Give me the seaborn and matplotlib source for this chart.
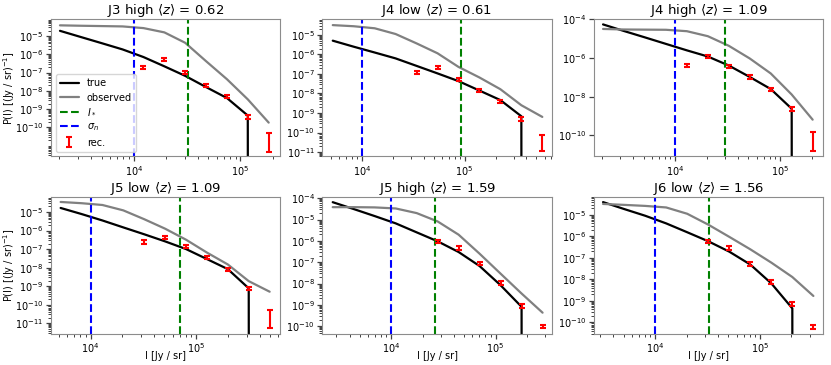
import numpy as np
import matplotlib
matplotlib.use("Agg")
import matplotlib.pyplot as plt
import seaborn as sns

# ---------------- data ----------------
titles = ["J3 high", "J4 low", "J4 high", "J5 low", "J5 high", "J6 low"]
mean_z = ["0.62", "0.61", "1.09", "1.09", "1.59", "1.56"]
sigma_n = [1e4, 1e4, 1e4, 1e4, 1e4, 1e4]
i_star = [32200, 91500, 29900, 69700, 26600, 32300]

# intensity bins [Jy/sr]
bins = [
    [2032, 3192, 5000, 7852, 12330, 19360, 30340, 47640, 74820, 117200, 184100],
    [5224, 8356, 13370, 21330, 34120, 54580, 87300, 139600, 222800, 356500, 570200],
    [2051, 3251, 5152, 8166, 12940, 20510, 32510, 51520, 81660, 129400, 205100],
    [5212, 8222, 12970, 20420, 32210, 50820, 80170, 126200, 199100, 314100, 495500],
    [2761, 4385, 6966, 11070, 17580, 27920, 44260, 70310, 111700, 177400, 281800],
    [3184, 5058, 8017, 12740, 20230, 32140, 50930, 80910, 128500, 203700, 323600],
]

true_vals = [
    [1.95e-5, 8.9e-6, 4.1e-6, 1.86e-6, 7.1e-7, 2.2e-7, 6.6e-8, 1.6e-8, 4.0e-9, 4.4e-10, 0],
    [5.1e-6, 2.5e-6, 1.26e-6, 6.3e-7, 2.6e-7, 1.07e-7, 4.3e-8, 1.41e-8, 4.6e-9, 6.8e-10, 0],
    [5.5e-5, 2.5e-5, 1.17e-5, 5.4e-6, 2.5e-6, 1.2e-6, 4.1e-7, 1.05e-7, 2.5e-8, 2.4e-9, 0],
    [1.66e-5, 7.8e-6, 3.5e-6, 1.48e-6, 6.3e-7, 2.6e-7, 1.0e-7, 2.9e-8, 8.3e-9, 7.6e-10, 0],
    [6.5e-5, 3.1e-5, 1.45e-5, 6.6e-6, 2.5e-6, 9.5e-7, 3.0e-7, 6.6e-8, 8.3e-9, 8.1e-10, 0],
    [3.9e-5, 1.86e-5, 9.1e-6, 4.0e-6, 1.55e-6, 5.9e-7, 1.95e-7, 4.9e-8, 6.5e-9, 4.5e-10, 0],
]

observed_vals = [
    [3.9e-5, 3.7e-5, 3.55e-5, 3.4e-5, 2.75e-5, 1.6e-5, 4.3e-6, 4.2e-7, 4.3e-8, 3.4e-9, 1.8e-10],
    [3.2e-5, 2.8e-5, 2.2e-5, 1.12e-5, 3.7e-6, 1.15e-6, 2.3e-7, 6.6e-8, 1.66e-8, 2.5e-9, 6.3e-10],
    [3.2e-5, 3.0e-5, 2.95e-5, 2.9e-5, 2.45e-5, 1.35e-5, 4.3e-6, 9.5e-7, 1.6e-7, 1.3e-8, 6.5e-10],
    [3.5e-5, 3.0e-5, 2.4e-5, 1.23e-5, 4.1e-6, 1.26e-6, 3.2e-7, 6.5e-8, 1.48e-8, 1.86e-9, 5.0e-10],
    [3.8e-5, 3.8e-5, 3.7e-5, 3.3e-5, 2.0e-5, 8.1e-6, 1.95e-6, 2.5e-7, 2.9e-8, 3.4e-9, 4.3e-10],
    [3.2e-5, 2.9e-5, 2.6e-5, 2.2e-5, 1.12e-5, 3.5e-6, 9.5e-7, 2.5e-7, 6.0e-8, 1.29e-8, 1.7e-9],
]

# reconstructed points start at this bin index
rec_start = [4, 4, 4, 4, 5, 5]
rec_y = [
    [2.0e-7, 5.1e-7, 1.0e-7, 2.1e-8, 4.9e-9, 3.9e-10, 1.47e-11],
    [1.15e-7, 2.2e-7, 5.2e-8, 1.48e-8, 4.0e-9, 4.8e-10, 2.9e-11],
    [4.3e-7, 1.26e-6, 3.8e-7, 1.05e-7, 2.4e-8, 2.3e-9, 4.7e-11],
    [2.45e-7, 4.0e-7, 1.32e-7, 3.4e-8, 7.9e-9, 7.6e-10, 1.66e-11],
    [9.5e-7, 4.6e-7, 8.5e-8, 1.1e-8, 8.9e-10, 1.0e-10],
    [5.9e-7, 2.9e-7, 5.4e-8, 7.6e-9, 7.2e-10, 6.3e-11],
]
rec_lo = [
    [1.65e-7, 4.2e-7, 8.2e-8, 1.7e-8, 4.0e-9, 3.0e-10, 4.6e-12],
    [9.5e-8, 1.8e-7, 4.3e-8, 1.2e-8, 3.3e-9, 3.8e-10, 1.07e-11],
    [3.5e-7, 1.03e-6, 3.1e-7, 8.6e-8, 2.0e-8, 1.85e-9, 1.5e-11],
    [2.0e-7, 3.3e-7, 1.08e-7, 2.8e-8, 6.5e-9, 6.0e-10, 5.4e-12],
    [7.8e-7, 3.8e-7, 7.0e-8, 9.0e-9, 7.0e-10, 8.2e-11],
    [4.8e-7, 2.4e-7, 4.4e-8, 6.2e-9, 5.8e-10, 5.2e-11],
]
rec_hi = [
    [2.4e-7, 6.1e-7, 1.2e-7, 2.5e-8, 5.9e-9, 4.9e-10, 4.7e-11],
    [1.4e-7, 2.65e-7, 6.2e-8, 1.8e-8, 4.8e-9, 6.0e-10, 7.8e-11],
    [5.2e-7, 1.5e-6, 4.6e-7, 1.27e-7, 2.9e-8, 2.85e-9, 1.48e-10],
    [2.95e-7, 4.8e-7, 1.6e-7, 4.1e-8, 9.5e-9, 9.4e-10, 5.1e-11],
    [1.15e-6, 5.5e-7, 1.03e-7, 1.33e-8, 1.12e-9, 1.2e-10],
    [7.1e-7, 3.5e-7, 6.5e-8, 9.2e-9, 8.8e-10, 7.6e-11],
]

# y tick decades shown per panel
ytick_exp = [
    [-10, -9, -8, -7, -6, -5],
    [-11, -10, -9, -8, -7, -6, -5],
    [-10, -8, -6, -4],
    [-11, -10, -9, -8, -7, -6, -5],
    [-10, -9, -8, -7, -6, -5, -4],
    [-10, -9, -8, -7, -6, -5],
]

# axis ranges
xlims = [(1675, 236600), (4140, 703000), (1671, 257600),
         (4227, 625200), (2198, 344400), (2594, 399900)]
ylims = [(2.5e-12, 8.7e-5), (5.9e-12, 6.6e-5), (8.1e-12, 1.05e-4),
         (2.6e-12, 6.9e-5), (4.3e-11, 1.2e-4), (2.9e-11, 7.1e-5)]

# ---------------- style ----------------
sns.set_style("ticks", {"axes.edgecolor": "0.55", "xtick.color": "0.25",
                        "ytick.color": "0.25", "axes.linewidth": 1.2,
                        "text.color": "black", "axes.labelcolor": "black"})
plt.rcParams["font.family"] = ["DejaVu Sans"]
plt.rcParams["text.color"] = "black"
plt.rcParams["axes.titlecolor"] = "black"
plt.rcParams["axes.labelcolor"] = "black"
plt.rcParams["xtick.labelcolor"] = "black"
plt.rcParams["ytick.labelcolor"] = "black"
plt.rcParams["xtick.direction"] = "out"
plt.rcParams["ytick.direction"] = "out"

fig, axes = plt.subplots(2, 3, figsize=(8.31, 3.65), dpi=100)
fig.subplots_adjust(left=0.0614, right=0.9904, top=0.948, bottom=0.0849,
                    wspace=0.1834, hspace=0.291)

for i, ax in enumerate(axes.flat):
    x = np.array(bins[i], dtype=float)
    sns.lineplot(x=x, y=np.array(true_vals[i]), color="black", lw=1.6,
                 label="true", ax=ax, legend=False)
    sns.lineplot(x=x, y=np.array(observed_vals[i]), color="gray", lw=1.6,
                 label="observed", ax=ax, legend=False)
    ax.axvline(i_star[i], color="green", ls="--", lw=1.5, label=r"$I_*$")
    ax.axvline(sigma_n[i], color="blue", ls="--", lw=1.5, label=r"$\sigma_n$")
    rx = x[rec_start[i]:rec_start[i] + len(rec_y[i])]
    ry = np.array(rec_y[i])
    yerr = [ry - np.array(rec_lo[i]), np.array(rec_hi[i]) - ry]
    ax.errorbar(rx, ry, yerr=yerr, fmt="none", ecolor="red", elinewidth=1.5,
                capsize=2.5, capthick=1.5, label="rec.")
    ax.set_xscale("log")
    ax.set_yscale("log")
    ax.set_xlim(*xlims[i])
    ax.set_ylim(*ylims[i])
    ax.set_yticks([10.0 ** e for e in ytick_exp[i]])
    ax.set_xticks([1e4, 1e5])
    ax.tick_params(axis="both", which="major", labelsize=7, length=3.5, width=0.9,
                   pad=2)
    ax.tick_params(axis="both", which="minor", length=2, width=0.7)
    ax.set_title(f"{titles[i]} " + r"$\langle z \rangle$" + f" = {mean_z[i]}",
                 fontsize=9.5, pad=2, color="black")
    ax.set_xlabel("")
    ax.set_ylabel("")
    if i % 3 == 0:
        ax.set_ylabel(r"P(I) [(Jy / sr)$^{-1}$]", fontsize=7)
        ax.yaxis.set_label_coords(-0.15, 0.5)
    if i >= 3:
        ax.set_xlabel("I [Jy / sr]", fontsize=7)
        ax.xaxis.set_label_coords(0.5, -0.12)
    if i == 0:
        leg = ax.legend(loc="lower left", fontsize=7, framealpha=0.8,
                        handlelength=2.0, borderpad=0.4, labelspacing=0.45)
        for t in leg.get_texts():
            t.set_color("black")

fig.savefig("out.png", dpi=100)
